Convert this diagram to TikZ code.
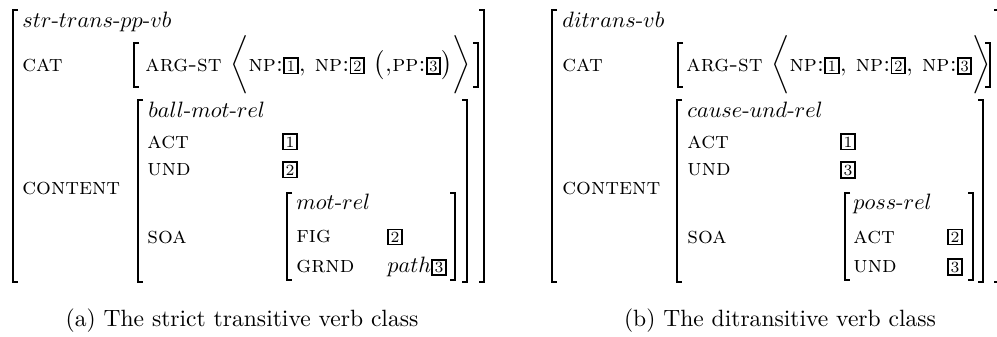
\documentclass[tikz,border=0pt]{standalone}
\usepackage{amsmath}
\usepackage{tikz}
\usetikzlibrary{positioning,calc}

\newcommand\boxnum[1]{{\setlength\fboxsep{0.7pt}\setlength\fboxrule{0.8pt}\fbox{\scriptsize #1}}}

\tikzset{
  feat/.style={anchor=west, font=\fontsize{10.5}{12}\selectfont\scshape, inner sep=0pt},
  sort/.style={anchor=base west, inner sep=0pt},
  val/.style={inner sep=0pt},
  brk/.style={line width=0.9pt},
  capt/.style={font=\fontsize{10.6}{13}\selectfont}
}

\begin{document}
\begin{tikzpicture}[x=0.45pt,y=-0.45pt]
\useasboundingbox (0,0) rectangle (997,337);
% brackets: left x / right x / top / bottom
\foreach \xa/\xb/\ya/\yb in {13/484/10/282, 134/478/43/87, 138/467/100/282, 287/455/193/280,
  552/999/10/282, 678/990/43/87, 677/983/100/282, 845/973/193/280} {
  \draw[brk] (\xa+5,\ya) -- (\xa,\ya) -- (\xa,\yb) -- (\xa+5,\yb);
  \draw[brk] (\xb-5,\ya) -- (\xb,\ya) -- (\xb,\yb) -- (\xb-5,\yb);
}

% (a) strict transitive
\node[sort] (typA) at (22,28) {$str$-$trans$-$pp$-$vb$};
\node[feat] (catA) at (22,65) {cat};
\node[feat] (contA) at (22,189) {content};
\node[feat] (argA) at (145,65) {arg-st $\bigg\langle$np:\boxnum{1}, np:\boxnum{2} $\big($,pp:\boxnum{3}$\big)$$\bigg\rangle$};
\node[sort] (relA) at (148,118) {$ball$-$mot$-$rel$};
\node[feat] (actA) at (147,142) {act};
\node[feat] (undA) at (147,170) {und};
\node[feat] (soaA) at (147,237) {soa};
\node[val] (actvA) at (290,142) {\boxnum{1}};
\node[val] (undvA) at (290,170) {\boxnum{2}};
\node[sort] (motA) at (296,210) {$mot$-$rel$};
\node[feat] (figA) at (296,237) {fig};
\node[feat] (grndA) at (296,267) {grnd};
\node[val] (figvA) at (395,237) {\boxnum{2}};
\node[val,anchor=west] (grndvA) at (387,267) {$path$\boxnum{3}};

% (b) ditransitive
\node[sort] (typB) at (562,28) {$ditrans$-$vb$};
\node[feat] (catB) at (562,65) {cat};
\node[feat] (contB) at (562,189) {content};
\node[feat] (argB) at (686,65) {arg-st $\bigg\langle$np:\boxnum{1}, np:\boxnum{2}, np:\boxnum{3}$\bigg\rangle$};
\node[sort] (relB) at (687,118) {$cause$-$und$-$rel$};
\node[feat] (actB) at (687,142) {act};
\node[feat] (undB) at (687,170) {und};
\node[feat] (soaB) at (687,237) {soa};
\node[val] (actvB) at (848,142) {\boxnum{1}};
\node[val] (undvB) at (848,170) {\boxnum{3}};
\node[sort] (possB) at (853,210) {$poss$-$rel$};
\node[feat] (pactB) at (853,237) {act};
\node[feat] (pundB) at (853,267) {und};
\node[val] (pactvB) at (955,237) {\boxnum{2}};
\node[val] (pundvB) at (955,267) {\boxnum{3}};

\node[capt] (capA) at (242,321) {(a) The strict transitive verb class};
\node[capt] (capB) at (780,321) {(b) The ditransitive verb class};
\end{tikzpicture}
\end{document}
